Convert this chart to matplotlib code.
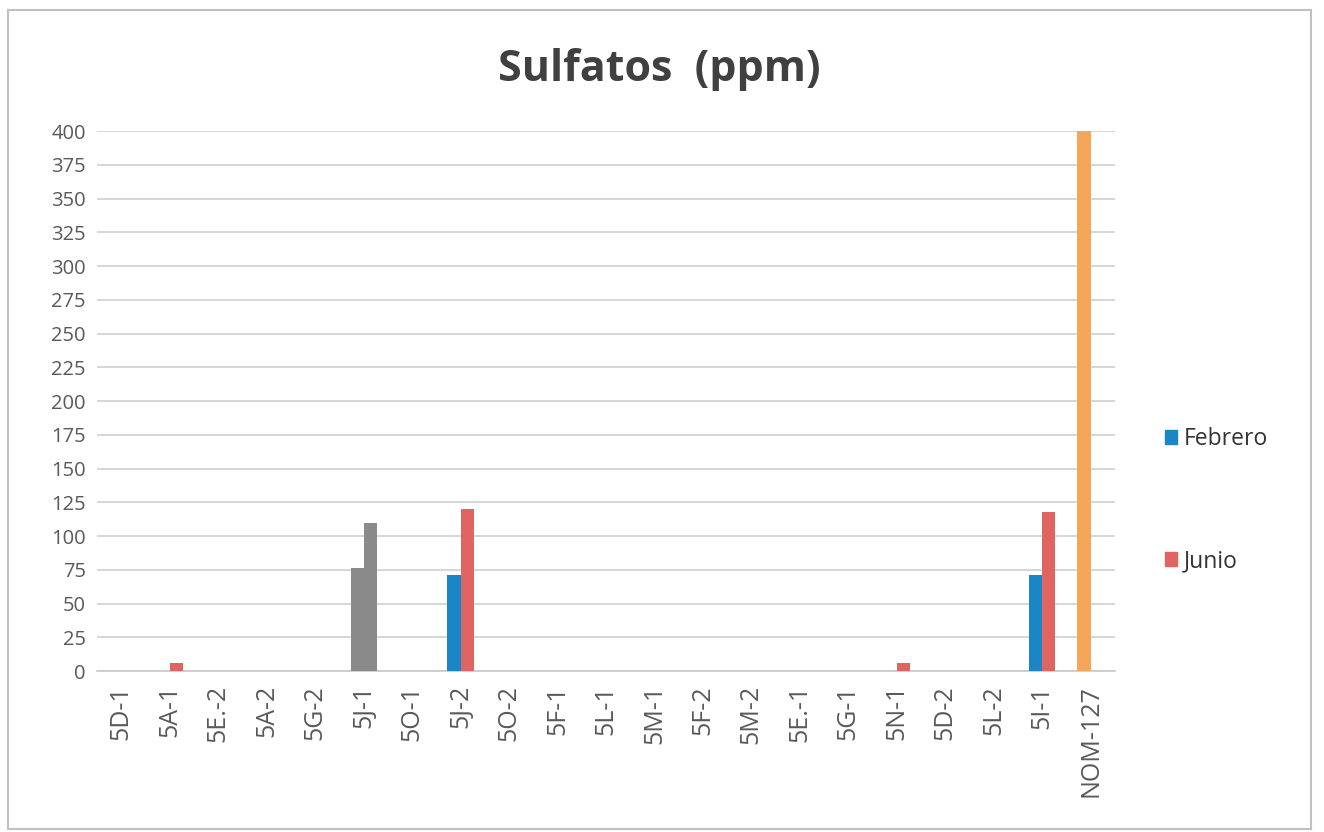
import numpy as np
import matplotlib.pyplot as plt
from matplotlib.patches import Rectangle

# Sulfate concentrations per sampling point
sites = ['5D-1', '5A-1', '5E.-2', '5A-2', '5G-2', '5J-1', '5O-1', '5J-2', '5O-2',
         '5F-1', '5L-1', '5M-1', '5F-2', '5M-2', '5E.-1', '5G-1', '5N-1', '5D-2',
         '5L-2', '5I-1', 'NOM-127']
febrero = [0, 0, 0, 0, 0, 76, 0, 71, 0, 0, 0, 0, 0, 0, 0, 0, 0, 0, 0, 71, 400]
junio = [0, 6, 0, 0, 0, 110, 0, 120, 0, 0, 0, 0, 0, 0, 0, 0, 6, 0, 0, 118, 0]

blue = '#1B86C6'
red = '#DF6462'
gray = '#8A8A8A'
orange = '#F6A658'
text_col = '#595959'

# per-bar colours: 5J-1 drawn in gray, the NOM-127 limit in orange
feb_colors = [blue] * len(sites)
jun_colors = [red] * len(sites)
feb_colors[sites.index('5J-1')] = gray
jun_colors[sites.index('5J-1')] = gray
feb_colors[sites.index('NOM-127')] = orange

plt.rcParams['font.family'] = ['Open Sans', 'DejaVu Sans']

fig = plt.figure(figsize=(13.24, 8.32), dpi=100)
ax = fig.add_axes([0.0733, 0.1935, 0.7687, 0.649])

x = np.arange(len(sites))
w = 0.27
ax.bar(x - w / 2, febrero, w, color=feb_colors, label='Febrero', zorder=3)
ax.bar(x + w / 2, junio, w, color=jun_colors, label='Junio', zorder=3)

ax.set_xlim(-0.5, len(sites) - 0.5)
ax.set_ylim(0, 400)
ax.set_yticks(np.arange(0, 401, 25))
ax.yaxis.grid(True, color='#D0D0D0', linewidth=1.2, zorder=0)
ax.set_xticks(x)
ax.set_xticklabels(sites, rotation=90)
ax.tick_params(axis='y', labelsize=14.5, colors=text_col, length=0, pad=8)
ax.tick_params(axis='x', labelsize=18, colors=text_col, length=0, pad=10)
for side in ['top', 'right', 'left']:
    ax.spines[side].set_visible(False)
ax.spines['bottom'].set_color('#C8C8C8')
ax.spines['bottom'].set_linewidth(1.2)

fig.text(0.498, 0.917, 'Sulfatos  (ppm)', ha='center', va='center',
         fontsize=31, fontweight='bold', color='#404040')

# legend entries placed to the right of the plot
fig.legend(handles=[Rectangle((0, 0), 1, 1, color=blue), Rectangle((0, 0), 1, 1, color=red)],
           labels=['Febrero', 'Junio'], loc='center left', bbox_to_anchor=(0.864, 0.399),
           frameon=False, fontsize=16.5, labelspacing=4.3, handlelength=0.55,
           handleheight=0.55, handletextpad=0.3, labelcolor='#333333')

# chart frame
fig.patches.append(Rectangle((0.006, 0.004), 0.984, 0.984, transform=fig.transFigure,
                             fill=False, edgecolor='#C0C0C0', linewidth=1.5))

fig.savefig('out.png', dpi=100, facecolor='white')
